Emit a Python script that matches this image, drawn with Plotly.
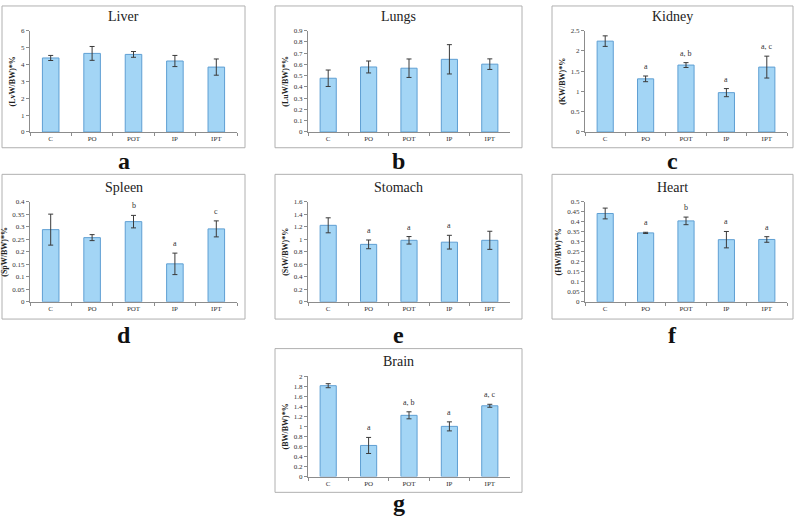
import plotly.graph_objects as go
from plotly.subplots import make_subplots

# organ weight ratio per group, mean and error
groups = ["C", "PO", "POT", "IP", "IPT"]

liver = [4.38, 4.65, 4.59, 4.2, 3.84]
liver_err = [0.15, 0.41, 0.17, 0.33, 0.48]
liver_sig = ["", "", "", "", ""]

lungs = [0.477, 0.577, 0.566, 0.645, 0.602]
lungs_err = [0.073, 0.053, 0.082, 0.13, 0.047]
lungs_sig = ["", "", "", "", ""]

kidney = [2.24, 1.31, 1.65, 0.97, 1.6]
kidney_err = [0.13, 0.07, 0.06, 0.1, 0.27]
kidney_sig = ["", "a", "a, b", "a", "a, c"]

spleen = [0.289, 0.257, 0.321, 0.152, 0.292]
spleen_err = [0.062, 0.012, 0.025, 0.043, 0.032]
spleen_sig = ["", "", "b", "a", "c"]

stomach = [1.225, 0.92, 0.985, 0.955, 0.985]
stomach_err = [0.12, 0.07, 0.06, 0.11, 0.145]
stomach_sig = ["", "a", "a", "a", ""]

heart = [0.442, 0.345, 0.405, 0.311, 0.312]
heart_err = [0.027, 0.003, 0.019, 0.041, 0.014]
heart_sig = ["", "a", "b", "a", "a"]

brain = [1.81, 0.62, 1.22, 1.0, 1.41]
brain_err = [0.04, 0.16, 0.07, 0.09, 0.03]
brain_sig = ["", "a", "a, b", "a", "a, c"]

W, H = 795, 518
serif = "Liberation Serif, Times New Roman, serif"

# (title, y label, values, errors, letters, ymax, dtick, panel letter, row, col)
panels = [
    ("Liver", "(LvW/BW)*%", liver, liver_err, liver_sig, 6, 1, "a", 1, 1),
    ("Lungs", "(LuW/BW)*%", lungs, lungs_err, lungs_sig, 0.9, 0.1, "b", 1, 2),
    ("Kidney", "(KW/BW)*%", kidney, kidney_err, kidney_sig, 2.5, 0.5, "c", 1, 3),
    ("Spleen", "(SpW/BW)*%", spleen, spleen_err, spleen_sig, 0.4, 0.05, "d", 2, 1),
    ("Stomach", "(StW/BW)*%", stomach, stomach_err, stomach_sig, 1.6, 0.2, "e", 2, 2),
    ("Heart", "(HW/BW)*%", heart, heart_err, heart_sig, 0.5, 0.05, "f", 2, 3),
    ("Brain", "(BW/BW)*%", brain, brain_err, brain_sig, 2, 0.2, "g", 3, 2),
]

# pixel geometry of the page
plot_x = {1: (30, 237), 2: (308, 510), 3: (585, 787)}
plot_y = {1: (27, 130), 2: (201, 302.5), 3: (378, 480)}
box_x = {1: (2, 245), 2: (275, 522), 3: (552, 793)}
box_y = {1: (2, 146), 2: (173, 320), 3: (350, 496)}
title_y = {1: 13, 2: 186, 3: 363}
letter_y = {1: 159, 2: 336, 3: 507}


def px_x(v):
    return v / W


def px_y(v):
    return 1 - v / H


fig = make_subplots(rows=3, cols=3,
                    specs=[[{}, {}, {}], [{}, {}, {}], [None, {}, None]])

for title, ylab, vals, errs, sig, ymax, dt, let, r, c in panels:
    fig.add_trace(go.Bar(
        x=groups, y=vals,
        marker=dict(color="#a3d5f5", line=dict(color="#5f9fd3", width=1)),
        error_y=dict(type="data", array=errs, color="#3a3a3a",
                     thickness=1, width=2.5),
        width=0.4, showlegend=False,
    ), row=r, col=c)

    fig.update_xaxes(domain=[px_x(plot_x[c][0]), px_x(plot_x[c][1])],
                     type="category", showline=True, linecolor="#8c8c8c",
                     ticks="outside", tickson="boundaries", ticklen=3,
                     tickcolor="#8c8c8c", showgrid=False,
                     tickfont=dict(family=serif, size=7, color="#333"),
                     row=r, col=c)
    fig.update_yaxes(domain=[px_y(plot_y[r][1]), px_y(plot_y[r][0])],
                     range=[0, ymax], dtick=dt, showline=True,
                     linecolor="#8c8c8c", ticks="outside", ticklen=3,
                     tickcolor="#8c8c8c", showgrid=False, zeroline=False,
                     tickfont=dict(family=serif, size=7, color="#333"),
                     title=dict(text=ylab, standoff=4,
                                font=dict(family=serif, size=8, color="#222",
                                          weight="bold")),
                     row=r, col=c)

    # panel frame, title and letter
    fig.add_shape(type="rect", xref="paper", yref="paper",
                  x0=px_x(box_x[c][0]), x1=px_x(box_x[c][1]),
                  y0=px_y(box_y[r][1]), y1=px_y(box_y[r][0]),
                  line=dict(color="#b0b0b0", width=1))
    cx = px_x((box_x[c][0] + box_x[c][1]) / 2)
    fig.add_annotation(text=title, x=cx, y=px_y(title_y[r]), xref="paper",
                       yref="paper", xanchor="center", yanchor="middle",
                       showarrow=False,
                       font=dict(family=serif, size=14, color="#222"))
    fig.add_annotation(text="<b>" + let + "</b>", x=cx, y=px_y(letter_y[r]),
                       xref="paper", yref="paper", xanchor="center",
                       yanchor="middle", showarrow=False,
                       font=dict(family=serif, size=24, color="#111"))

    # significance letters above the error bars
    idx = fig.data[-1].xaxis[1:]
    for g, v, e, s in zip(groups, vals, errs, sig):
        if s:
            fig.add_annotation(text=s, x=g, y=v + e, xref="x" + idx,
                               yref="y" + idx, yanchor="bottom", yshift=3,
                               showarrow=False,
                               font=dict(family=serif, size=8, color="#333"))

fig.update_layout(width=W, height=H, margin=dict(l=0, r=0, t=0, b=0),
                  plot_bgcolor="white", paper_bgcolor="white", bargap=0.6)

fig.write_html("out.html", config={"displayModeBar": False},
               post_script="document.body.style.margin='0';"
                           "document.documentElement.style.overflow='hidden';")
